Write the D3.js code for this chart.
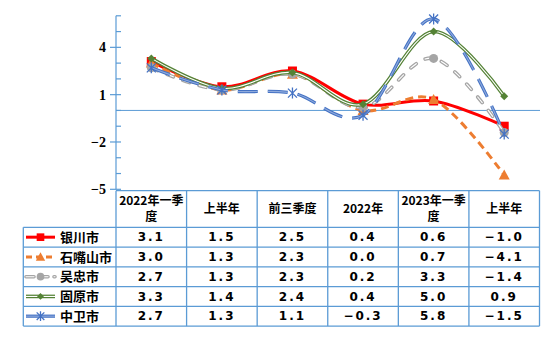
<!DOCTYPE html>
<html><head><meta charset="utf-8">
<script src="https://cdn.jsdelivr.net/npm/d3@7"></script>
<style>
html,body{margin:0;padding:0;background:#fff;}
svg{display:block;}
</style></head>
<body>
<script>
const categories = ["2022年一季度","上半年","前三季度","2022年","2023年一季度","上半年"];
const seriesNames = ["银川市","石嘴山市","吴忠市","固原市","中卫市"];
const yinchuan   = [3.1, 1.5, 2.5, 0.4, 0.6, -1.0];
const shizuishan = [3.0, 1.3, 2.3, 0.0, 0.7, -4.1];
const wuzhong    = [2.7, 1.3, 2.3, 0.2, 3.3, -1.4];
const guyuan     = [3.3, 1.4, 2.4, 0.4, 5.0, 0.9];
const zhongwei   = [2.7, 1.3, 1.1, -0.3, 5.8, -1.5];
const yTickLabels = [-5, -2, 1, 4];
const seriesValues = [yinchuan, shizuishan, wuzhong, guyuan, zhongwei];

const W = 555, H = 343;
const svg = d3.select("body").append("svg").attr("width", W).attr("height", H);
const axisColor = "#5B9BD5";

const x = d3.scaleBand().domain(d3.range(categories.length)).range([116, 539.5]);
const y = d3.scaleLinear().domain([-5, 6]).range([189.3, 15.8]);

const styles = [
  {color:"#FF0000", width:3, dash:null, marker:"square"},
  {color:"#ED7D31", width:3, dash:"8,5", marker:"triangle"},
  {color:"#A5A5A5", width:3.6, dash:"7,10", marker:"circle", inner:"#fff", cap:"round"},
  {color:"#548235", width:3.6, dash:null, marker:"diamond", inner:"#fff"},
  {color:"#4472C4", width:3.2, dash:"20,10", marker:"star", inner:"#8FAADC"}
];

// zero line
svg.append("line").attr("x1", 116).attr("x2", 540).attr("y1", y(0)).attr("y2", y(0))
  .attr("stroke", axisColor).attr("stroke-width", 1);

// y axis
const ax = svg.append("g");
ax.append("line").attr("x1", 116).attr("x2", 116).attr("y1", y(6)).attr("y2", y(-5))
  .attr("stroke", axisColor).attr("stroke-width", 1.2);
d3.range(-5, 7).forEach(v => {
  const major = yTickLabels.includes(v);
  ax.append("line").attr("x1", major ? 110 : 116).attr("x2", 121)
    .attr("y1", y(v)).attr("y2", y(v)).attr("stroke", axisColor).attr("stroke-width", 1.2);
});
yTickLabels.forEach(v => {
  ax.append("text").attr("x", 106).attr("y", y(v)).attr("dy", "0.36em")
    .attr("text-anchor", "end")
    .attr("font-family", "'Liberation Serif', serif").attr("font-weight", "bold")
    .attr("font-size", 14).attr("fill", "#000")
    .text(v < 0 ? "\u2212" + Math.abs(v) : String(v));
});

const line = d3.line().x((d, i) => x(i) + x.bandwidth() / 2).y(d => y(d))
  .curve(d3.curveCatmullRom.alpha(0));

function marker(g, type, cx, cy, color, s) {
  s = s || 1;
  if (type === "square") {
    g.append("rect").attr("x", cx - 4.5*s).attr("y", cy - 4.5*s).attr("width", 9*s).attr("height", 9*s).attr("fill", color);
  } else if (type === "triangle") {
    g.append("path").attr("d", `M${cx},${cy-5.5*s}L${cx+5.5*s},${cy+4.5*s}L${cx-5.5*s},${cy+4.5*s}Z`).attr("fill", color);
  } else if (type === "circle") {
    g.append("circle").attr("cx", cx).attr("cy", cy).attr("r", 4.5*s).attr("fill", color);
  } else if (type === "diamond") {
    g.append("path").attr("d", `M${cx},${cy-4*s}L${cx+4*s},${cy}L${cx},${cy+4*s}L${cx-4*s},${cy}Z`).attr("fill", color);
  } else if (type === "star") {
    const r = 4.5*s;
    g.append("path").attr("d", `M${cx-r},${cy-r}L${cx+r},${cy+r}M${cx-r},${cy+r}L${cx+r},${cy-r}M${cx},${cy-r-1}L${cx},${cy+r+1}`)
      .attr("stroke", color).attr("stroke-width", 1.3).attr("fill", "none");
  }
}

seriesValues.forEach((vals, si) => {
  const st = styles[si];
  const g = svg.append("g");
  g.append("path").attr("d", line(vals)).attr("fill", "none").attr("stroke", st.color)
    .attr("stroke-width", st.width).attr("stroke-dasharray", st.dash)
    .attr("stroke-linecap", st.cap || "butt").attr("stroke-linejoin", "round");
  if (st.inner) {
    g.append("path").attr("d", line(vals)).attr("fill", "none").attr("stroke", st.inner)
      .attr("stroke-width", 1.1).attr("stroke-dasharray", st.dash)
      .attr("stroke-linecap", st.cap || "butt");
  }
  vals.forEach((v, i) => marker(g, st.marker, x(i) + x.bandwidth() / 2, y(v), st.color));
});

// table
const tb = svg.append("g");
const rowTop = 227.3, rowH = 19.75, headTop = 190.7;
const tableLeft = 23.3, colLeft = 116, tableRight = 539.5;
const tStroke = (x1, y1, x2, y2) => tb.append("line").attr("x1", x1).attr("y1", y1).attr("x2", x2).attr("y2", y2)
  .attr("stroke", axisColor).attr("stroke-width", 1.3);

tStroke(colLeft, headTop, tableRight, headTop);
for (let r = 0; r <= seriesNames.length; r++) tStroke(tableLeft, rowTop + r*rowH, tableRight, rowTop + r*rowH);
tStroke(tableLeft, rowTop, tableLeft, rowTop + seriesNames.length*rowH);
for (let c = 0; c <= categories.length; c++) {
  const xx = c < categories.length ? x(c) : tableRight;
  tStroke(xx, headTop, xx, rowTop + seriesNames.length*rowH);
}

const cjk = "'Noto Sans CJK SC', 'Noto Sans', sans-serif";
categories.forEach((c, i) => {
  const lines = c.length > 7 ? [c.slice(0, 7), c.slice(7)] : [c];
  const cx = x(i) + x.bandwidth() / 2;
  const cy = (headTop + rowTop) / 2;
  lines.forEach((l, li) => {
    tb.append("text").attr("x", cx).attr("y", cy + (li - (lines.length - 1) / 2) * 16).attr("dy", "0.36em")
      .attr("text-anchor", "middle").attr("font-family", cjk).attr("font-weight", "bold")
      .attr("font-size", 12).attr("fill", "#000").text(l);
  });
});

const fmt = v => (v < 0 ? "\u2212" : "") + Math.abs(v).toFixed(1);
seriesNames.forEach((n, r) => {
  const cy = rowTop + r*rowH + rowH / 2;
  const st = styles[r];
  const lg = tb.append("g");
  lg.append("line").attr("x1", 26).attr("x2", 55).attr("y1", cy).attr("y2", cy)
    .attr("stroke", st.color).attr("stroke-width", st.width)
    .attr("stroke-dasharray", st.dash ? (r === 1 ? "6,4" : r === 2 ? "8,6" : null) : null)
    .attr("stroke-linecap", st.cap || "butt");
  if (st.inner) {
    lg.append("line").attr("x1", 26).attr("x2", 55).attr("y1", cy).attr("y2", cy)
      .attr("stroke", st.inner).attr("stroke-width", 1.1)
      .attr("stroke-dasharray", r === 2 ? "8,6" : null).attr("stroke-linecap", st.cap || "butt");
  }
  marker(lg, st.marker, 40.5, cy, st.color, 0.85);
  tb.append("text").attr("x", 60).attr("y", cy).attr("dy", "0.36em")
    .attr("font-family", cjk).attr("font-weight", "bold").attr("font-size", 13).attr("fill", "#000").text(n);
  seriesValues[r].forEach((v, i) => {
    tb.append("text").attr("x", x(i) + x.bandwidth() / 2).attr("y", cy).attr("dy", "0.36em")
      .attr("text-anchor", "middle").attr("font-family", "'DejaVu Sans', sans-serif").attr("font-weight", "bold")
      .attr("font-size", 12).attr("letter-spacing", 2).attr("fill", "#000").text(fmt(v));
  });
});
</script>
</body></html>
